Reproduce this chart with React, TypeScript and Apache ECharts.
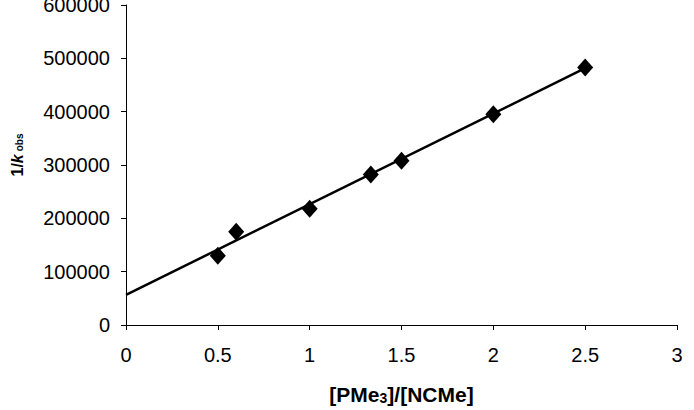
import React, { useEffect, useRef } from "react";
import * as echarts from "echarts";

const ratios = [0.5, 0.6, 1, 1.333, 1.5, 2, 2.5];
const invKobs = [130000, 175000, 218000, 282000, 308000, 395000, 483000];
const trendX = [0, 2.5];
const trendY = [56500, 481500];

export default function App() {
  const ref = useRef<HTMLDivElement>(null);
  useEffect(() => {
    if (!ref.current) return;
    const chart = echarts.init(ref.current, null, { renderer: "svg" });
    const font = "Liberation Sans, Arial, sans-serif";
    chart.setOption({
      animation: false,
      backgroundColor: "#ffffff",
      grid: { left: 126, right: 17, top: 5, bottom: 85, containLabel: false, outerBoundsMode: "none" },
      graphic: [
        {
          type: "text",
          x: 17,
          y: 155,
          rotation: Math.PI / 2,
          style: {
            text: "{b|1/}{i|k}{s|obs}",
            align: "center",
            verticalAlign: "middle",
            rich: {
              b: { fontSize: 16, fontWeight: "bold", fontFamily: font, fill: "#000" },
              i: { fontSize: 16, fontWeight: "bold", fontStyle: "italic", fontFamily: font, fill: "#000" },
              s: { fontSize: 10, fontWeight: "bold", fontFamily: font, fill: "#000", padding: [5, 0, 0, 3] },
            },
          },
        },
      ],
      xAxis: {
        type: "value",
        min: 0,
        max: 3,
        interval: 0.5,
        splitLine: { show: false },
        axisLine: { show: true, onZero: false, lineStyle: { color: "#000", width: 1 } },
        axisTick: { show: true, length: 5, lineStyle: { color: "#000" } },
        axisLabel: { color: "#000", fontSize: 20, fontFamily: font, margin: 20 },
        name: "{b|[PMe}{s|3}{b|]/[NCMe]}",
        nameLocation: "middle",
        nameGap: 59,
        nameTextStyle: {
          rich: {
            b: { fontSize: 21, fontWeight: "bold", fontFamily: font, color: "#000" },
            s: { fontSize: 14, fontWeight: "bold", fontFamily: font, color: "#000", padding: [7, 0, 0, 0] },
          },
        },
      },
      yAxis: {
        type: "value",
        min: 0,
        max: 600000,
        interval: 100000,
        splitLine: { show: false },
        axisLine: { show: true, onZero: false, lineStyle: { color: "#000", width: 1 } },
        axisTick: { show: true, length: 5, lineStyle: { color: "#000" } },
        axisLabel: {
          color: "#000",
          fontSize: 20,
          fontFamily: font,
          margin: 16,
          formatter: (v: number) => String(v),
        },
      },
      series: [
        {
          type: "line",
          data: trendX.map((x, i) => [x, trendY[i]]),
          showSymbol: false,
          symbol: "none",
          lineStyle: { color: "#000", width: 2.5 },
          z: 2,
        },
        {
          type: "scatter",
          data: ratios.map((x, i) => [x, invKobs[i]]),
          symbol: "diamond",
          symbolSize: [16, 18],
          itemStyle: { color: "#000", opacity: 1 },
          z: 3,
        },
      ],
    });
    return () => chart.dispose();
  }, []);
  return <div ref={ref} style={{ width: 694, height: 410, position: "absolute", left: 0, top: 0 }} />;
}
